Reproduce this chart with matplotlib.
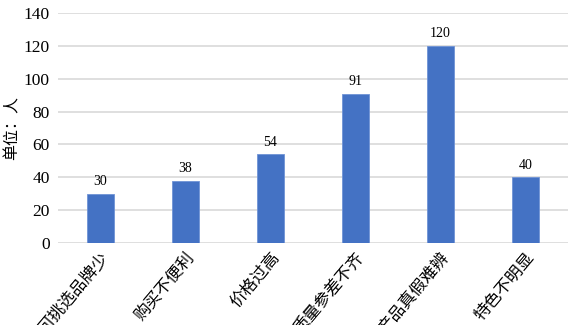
import matplotlib.pyplot as plt

plt.rcParams['font.family'] = ['Liberation Serif', 'Noto Sans CJK SC']

categories = ["可挑选品牌少", "购买不便利", "价格过高", "质量参差不齐", "产品真假难辨", "特色不明显"]
values = [30, 38, 54, 91, 120, 40]
yticks = [0, 20, 40, 60, 80, 100, 120, 140]

fig = plt.figure(figsize=(5.77, 3.25), dpi=100)
ax = fig.add_axes([58 / 577, 1 - 243 / 325, 510 / 577, 230 / 325])

x = range(len(categories))
bars = ax.bar(x, values, width=0.31, color="#4472C4", edgecolor="#6F93D6", linewidth=0.6, zorder=3)
for b, v in zip(bars, values):
    ax.text(b.get_x() + b.get_width() / 2, v + 3.5, str(v), ha="center", va="bottom",
            fontsize=10)

ax.set_xlim(-0.5, len(categories) - 0.5)
ax.set_ylim(0, 140)
ax.set_yticks(yticks)
ax.tick_params(axis="y", labelsize=12.5, length=0, pad=6)
ax.tick_params(axis="x", length=0, pad=5)
ax.set_xticks(list(x))
ax.set_xticklabels(categories, rotation=50, ha="right", va="top", rotation_mode="anchor", fontsize=12)
ax.yaxis.grid(True, color="#D9D9D9", linewidth=1.2, zorder=0)
for s in ax.spines.values():
    s.set_visible(False)
ax.set_ylabel("单位：人", fontsize=11.5)
ax.yaxis.set_label_coords(-37 / 510, 0.5)

fig.savefig("out.png", dpi=100)
